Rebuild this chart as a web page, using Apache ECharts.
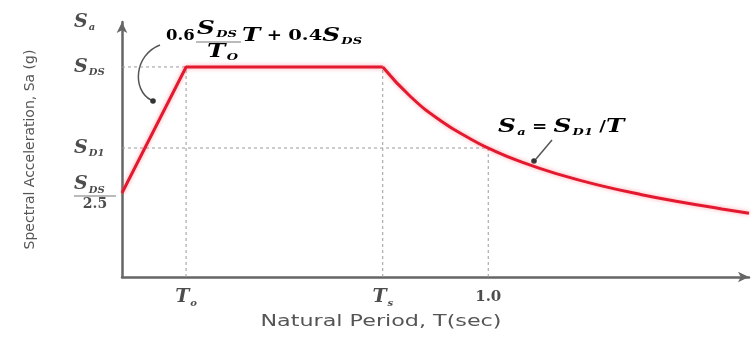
<!DOCTYPE html>
<html><head><meta charset="utf-8">
<script src="https://cdn.jsdelivr.net/npm/echarts@6/dist/echarts.min.js"></script>
<style>html,body{margin:0;padding:0;background:#fff}#c{width:756px;height:337px}</style>
</head><body><div id="c"></div>
<script>
// ---- data ----
const rampT = [0, 0.175, 0.712];
const rampSa = [0.4, 1.0, 1.0];
const decayT = [0.712, 0.789, 0.871, 0.953, 1.0, 1.090, 1.200, 1.310, 1.419, 1.529, 1.638, 1.712];
const decaySa = [1.0, 0.857, 0.743, 0.656, 0.614, 0.548, 0.485, 0.434, 0.392, 0.356, 0.324, 0.303];
const T0 = 0.175, TS = 0.712, T1 = 1.0;
const SDS = 1.0, SD1 = 0.614, SDSmin = 0.4;
const xMax = 1.712, yMax = 1.214;
const xTickValues = [T0, TS, T1];
const xTickMain = ['T', 'T', '1.0'];
const xTickSub = ['o', 's', ''];
const yTickValues = [yMax, SDS, SD1, SDSmin];
const yTickMain = ['S', 'S', 'S', 'S'];
const yTickSub = ['a', 'DS', 'D1', 'DS'];
const yTickDen = ['', '', '', '2.5'];
const xTitle = 'Natural Period, T(sec)';
const yTitle = 'Spectral Acceleration, Sa (g)';

// ---- styles ----
const ink = '#4d4d4d';
const serif = 'DejaVu Serif';
const mathRich = {
  s: {fontFamily: serif, fontStyle: 'italic', fontWeight: 'bold', fontSize: 19, color: ink, lineHeight: 21},
  sub: {fontFamily: serif, fontStyle: 'italic', fontWeight: 'bold', fontSize: 10, color: ink, verticalAlign: 'bottom', padding: [0, 0, 0, 1]},
  n: {fontFamily: serif, fontWeight: 'bold', fontSize: 15, color: ink, lineHeight: 21},
  op: {fontFamily: serif, fontWeight: 'bold', fontSize: 14, color: ink, lineHeight: 21},
  bar: {width: 42, height: 1, backgroundColor: '#777', lineHeight: 2},
  den: {fontFamily: serif, fontWeight: 'bold', fontSize: 14, color: ink, width: 38, align: 'center', lineHeight: 15}
};

function idx(arr, v) {
  let best = 0;
  for (let i = 1; i < arr.length; i++) if (Math.abs(arr[i] - v) < Math.abs(arr[best] - v)) best = i;
  return best;
}

const guideSegs = [
  [[0, SDS], [T0, SDS]],
  [[0, SD1], [T1, SD1]],
  [[T0, 0], [T0, SDS]],
  [[TS, 0], [TS, SDS]],
  [[T1, 0], [T1, SD1]]
];

const series = guideSegs.map(seg => ({
  type: 'line', data: seg, symbol: 'none', silent: true, z: 1,
  lineStyle: {color: '#9a9a9a', width: 1, type: [3, 3]}
}));
const redStyle = {color: '#e3192f', width: 3, shadowColor: 'rgba(255,90,100,0.55)', shadowBlur: 4};
series.push({
  type: 'line', data: rampT.map((t, i) => [t, rampSa[i]]), symbol: 'none', z: 3,
  lineStyle: redStyle
});
series.push({
  type: 'line', data: decayT.map((t, i) => [t, decaySa[i]]), symbol: 'none', z: 3,
  smooth: 0.5, clip: false, lineStyle: redStyle
});

const K = 1.3; // horizontal stretch of the math annotations
const chart = echarts.init(document.getElementById('c'), null, {renderer: 'canvas'});
chart.setOption({
  animation: false,
  backgroundColor: '#fff',
  grid: {left: 122, right: 7, top: 22, bottom: 60, containLabel: false},
  xAxis: {
    type: 'value', min: 0, max: xMax,
    axisLine: {show: true, symbol: ['none', 'arrow'], symbolSize: [8, 11], lineStyle: {color: '#666', width: 2.5}},
    axisTick: {show: false}, splitLine: {show: false},
    axisLabel: {
      customValues: xTickValues, margin: 10,
      formatter: v => { const i = idx(xTickValues, v); return xTickSub[i] ? '{s|' + xTickMain[i] + '}{sub|' + xTickSub[i] + '}' : '{n|' + xTickMain[i] + '}'; },
      rich: mathRich
    }
  },
  yAxis: {
    type: 'value', min: 0, max: yMax,
    name: yTitle, nameLocation: 'middle', nameGap: 85, nameRotate: 90,
    nameTextStyle: {fontFamily: 'DejaVu Sans', fontSize: 14, color: '#555'},
    axisLine: {show: true, symbol: ['none', 'arrow'], symbolSize: [8, 11], lineStyle: {color: '#666', width: 2.5}},
    axisTick: {show: false}, splitLine: {show: false},
    axisLabel: {
      customValues: yTickValues, margin: 48, align: 'left',
      formatter: v => {
        const i = idx(yTickValues, v);
        let s = '{s|' + yTickMain[i] + '}{sub|' + yTickSub[i] + '}';
        if (yTickDen[i]) s += '\n{bar|}\n{den|' + yTickDen[i] + '}';
        return s;
      },
      rich: mathRich
    }
  },
  graphic: [
    {type: 'text', x: 381, y: 322, scaleX: 1.39, style: {text: xTitle, font: '16px "DejaVu Sans"', fill: '#555', align: 'center', verticalAlign: 'middle'}},
    // formula annotation near ramp
    {type: 'text', x: 166, y: 36, scaleX: 1.1, style: {text: '{n|0.6}', rich: mathRich, verticalAlign: 'middle'}},
    {type: 'text', x: 197, y: 29, scaleX: K, style: {text: '{s|S}{sub|DS}', rich: mathRich, verticalAlign: 'middle'}},
    {type: 'line', shape: {x1: 196, y1: 42, x2: 241, y2: 42}, style: {stroke: '#777', lineWidth: 1}},
    {type: 'text', x: 207, y: 52, scaleX: K, style: {text: '{s|T}{sub|O}', rich: mathRich, verticalAlign: 'middle'}},
    {type: 'text', x: 242, y: 36, scaleX: K, style: {text: '{s|T}{op| + }{n|0.4}{s|S}{sub|DS}', rich: mathRich, verticalAlign: 'middle'}},
    {type: 'bezierCurve', shape: {x1: 160, y1: 45, cpx1: 134, cpy1: 55, cpx2: 132, cpy2: 90, x2: 151, y2: 100}, style: {stroke: '#555', lineWidth: 1.5, fill: null}},
    {type: 'circle', shape: {cx: 153, cy: 101, r: 2.8}, style: {fill: '#333'}},
    // formula annotation near decay
    {type: 'text', x: 498, y: 127, scaleX: K, style: {text: '{s|S}{sub|a}{op| = }{s|S}{sub|D1}{op| /}{s|T}', rich: mathRich, verticalAlign: 'middle'}},
    {type: 'line', shape: {x1: 552, y1: 140, x2: 536, y2: 159}, style: {stroke: '#555', lineWidth: 1.5}},
    {type: 'circle', shape: {cx: 534, cy: 161, r: 2.8}, style: {fill: '#333'}}
  ],
  series: series
});
</script>
</body></html>
